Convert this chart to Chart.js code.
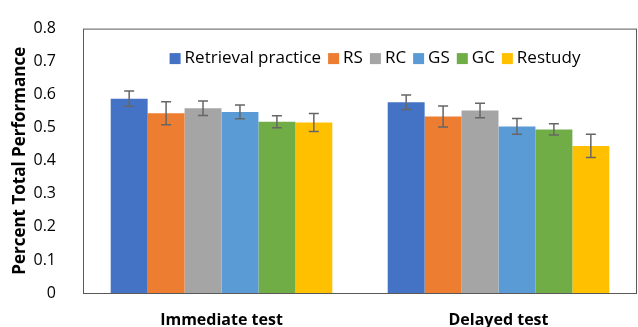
<!DOCTYPE html>
<html>
<head>
<meta charset="utf-8">
<script src="https://cdn.jsdelivr.net/npm/chart.js@4"></script>
<style>
  html, body { margin: 0; padding: 0; background: #fff; }
  #grafico { width: 638px; height: 327px; }
</style>
</head>
<body>
<div id="grafico"><canvas id="lienzo"></canvas></div>
<script>
// datos
const categorias = ["Immediate test", "Delayed test"];
const series = ["Retrieval practice", "RS", "RC", "GS", "GC", "Restudy"];
const retrieval = [0.588, 0.577];
const rs = [0.544, 0.534];
const rc = [0.559, 0.552];
const gs = [0.548, 0.504];
const gc = [0.518, 0.495];
const restudy = [0.516, 0.445];
const errRetrieval = [0.023, 0.022];
const errRs = [0.035, 0.032];
const errRc = [0.022, 0.022];
const errGs = [0.021, 0.024];
const errGc = [0.018, 0.017];
const errRestudy = [0.027, 0.035];
const ticksY = [0, 0.1, 0.2, 0.3, 0.4, 0.5, 0.6, 0.7, 0.8];

const valores = [retrieval, rs, rc, gs, gc, restudy];
const errores = [errRetrieval, errRs, errRc, errGs, errGc, errRestudy];
const colores = ["#4472C4", "#ED7D31", "#A5A5A5", "#5B9BD5", "#70AD47", "#FFC000"];
const fuente = "'Open Sans', sans-serif";

// barras de error, marco del area y leyenda dentro del area
const extras = {
    id: "extras",
    afterDatasetsDraw(chart) {
        const ctx = chart.ctx;
        const y = chart.scales.y;
        ctx.save();
        ctx.strokeStyle = "#666666";
        ctx.lineWidth = 1.5;
        chart.data.datasets.forEach((ds, i) => {
            const meta = chart.getDatasetMeta(i);
            meta.data.forEach((barra, j) => {
                const x = barra.x;
                const arriba = y.getPixelForValue(ds.data[j] + ds.errores[j]);
                const abajo = y.getPixelForValue(ds.data[j] - ds.errores[j]);
                ctx.beginPath();
                ctx.moveTo(x, arriba); ctx.lineTo(x, abajo);
                ctx.moveTo(x - 5, arriba); ctx.lineTo(x + 5, arriba);
                ctx.moveTo(x - 5, abajo); ctx.lineTo(x + 5, abajo);
                ctx.stroke();
            });
        });
        const a = chart.chartArea;
        ctx.strokeStyle = "#595959";
        ctx.lineWidth = 1;
        ctx.strokeRect(a.left + 0.5, a.top + 0.5, a.right - a.left - 1, a.bottom - a.top);

        // leyenda
        ctx.font = "17px " + fuente;
        ctx.textBaseline = "middle";
        const caja = 11, hueco = 4, separa = 7;
        const anchos = chart.data.datasets.map((ds) => ctx.measureText(ds.label).width);
        const total = anchos.reduce((s, w) => s + caja + hueco + w, 0) + separa * (anchos.length - 1);
        let x = (a.left + a.right) / 2 + 15 - total / 2;
        const yc = a.top + 30;
        chart.data.datasets.forEach((ds, i) => {
            ctx.fillStyle = ds.backgroundColor;
            ctx.fillRect(x, yc - caja / 2, caja, caja);
            x += caja + hueco;
            ctx.fillStyle = "#000";
            ctx.fillText(ds.label, x, yc);
            x += anchos[i] + separa;
        });
        ctx.restore();
    }
};

new Chart(document.getElementById("lienzo"), {
    type: "bar",
    data: {
        labels: categorias,
        datasets: series.map((nombre, i) => ({
            label: nombre,
            data: valores[i],
            errores: errores[i],
            backgroundColor: colores[i],
            categoryPercentage: 0.8,
            barPercentage: 1.0,
        })),
    },
    options: {
        responsive: true,
        maintainAspectRatio: false,
        animation: false,
        layout: { padding: { top: 20, right: 1, left: 0, bottom: 0 } },
        plugins: {
            legend: { display: false },
            tooltip: { enabled: false },
        },
        scales: {
            x: {
                grid: { display: false },
                border: { display: false },
                ticks: { color: "#000", font: { family: fuente, size: 16, weight: "bold" }, padding: 10 },
                afterFit: (s) => { s.height = 34; },
            },
            y: {
                min: 0,
                max: 0.8,
                afterBuildTicks: (s) => { s.ticks = ticksY.map((v) => ({ value: v })); },
                grid: { display: false },
                border: { display: false },
                ticks: { color: "#000", font: { family: fuente, size: 16 }, padding: 19 },
                title: {
                    display: true,
                    text: "Percent Total Performance",
                    color: "#000",
                    font: { family: fuente, size: 17, weight: "bold" },
                    padding: { top: 10, bottom: 0 },
                },
                afterFit: (s) => { s.width = 83; },
            },
        },
    },
    plugins: [extras],
});
</script>
</body>
</html>
